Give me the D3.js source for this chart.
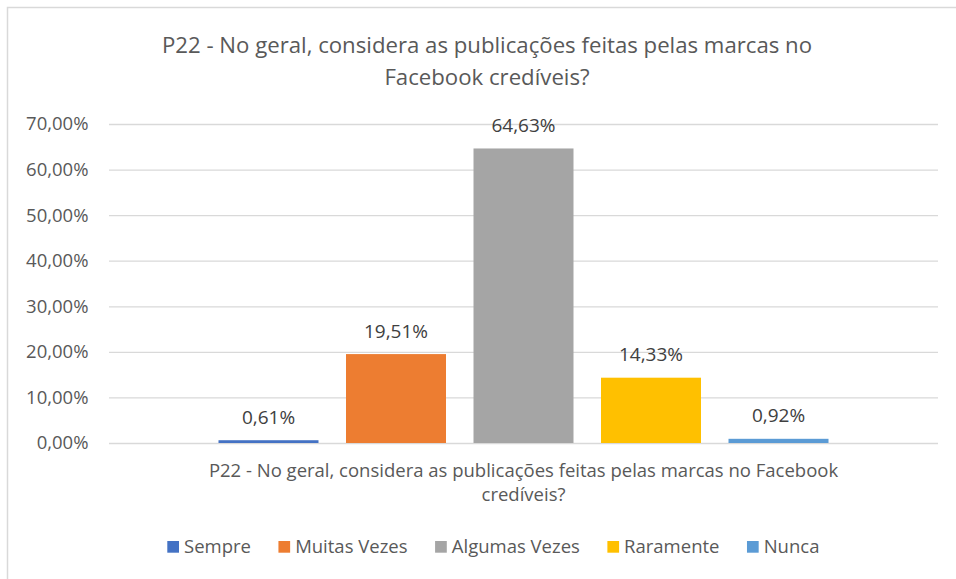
<!DOCTYPE html>
<html>
<head>
<meta charset="utf-8">
<script src="https://cdn.jsdelivr.net/npm/d3@7"></script>
<style>
  html, body { margin: 0; padding: 0; background: #fff; }
  svg { display: block; }
  text { font-family: "Open Sans", "Noto Sans", sans-serif; fill: #595959; }
</style>
</head>
<body>
<svg id="chart" width="956" height="579"></svg>
<script>
const titleLines = ["P22 - No geral, considera as publicações feitas pelas marcas no", "Facebook credíveis?"];
const axisTitleLines = ["P22 - No geral, considera as publicações feitas pelas marcas no Facebook", "credíveis?"];
const series = ["Sempre", "Muitas Vezes", "Algumas Vezes", "Raramente", "Nunca"];
const values = [0.0061, 0.1951, 0.6463, 0.1433, 0.0092];
const valueLabels = ["0,61%", "19,51%", "64,63%", "14,33%", "0,92%"];
const colors = ["#4472C4", "#ED7D31", "#A5A5A5", "#FFC000", "#5B9BD5"];
const yTicks = [0, 0.1, 0.2, 0.3, 0.4, 0.5, 0.6, 0.7];

const FONT = '"Open Sans", "Noto Sans", sans-serif';
const svg = d3.select("#chart");
const plot = { left: 109, right: 938, top: 124, bottom: 443 };

// chart border
svg.append("rect").attr("x", 7.5).attr("y", 7.5).attr("width", 960).attr("height", 600)
  .attr("fill", "#fff").attr("stroke", "#D9D9D9").attr("stroke-width", 1.5);

const y = d3.scaleLinear().domain([0, 0.7]).range([plot.bottom, plot.top]);
const x = d3.scaleBand().domain(series).range([plot.left, plot.right])
  .paddingInner(0.2157).paddingOuter(0.8588);

const fmt = d => d3.format(".2f")(d * 100).replace(".", ",") + "%";

// y axis + gridlines
const yAxis = d3.axisLeft(y).tickValues(yTicks).tickFormat(fmt)
  .tickSize(-(plot.right - plot.left)).tickPadding(20.5);
const gy = svg.append("g").attr("transform", `translate(${plot.left},0)`).call(yAxis);
gy.select(".domain").remove();
gy.selectAll(".tick line").attr("stroke", "#D9D9D9").attr("stroke-width", 1.3);
gy.selectAll(".tick text").attr("font-size", 18.5).attr("fill", "#595959")
  .style("font-family", FONT);

// bars
svg.append("g").selectAll("rect").data(series).join("rect")
  .attr("x", d => x(d))
  .attr("width", x.bandwidth())
  .attr("y", (d, i) => y(values[i]))
  .attr("height", (d, i) => y(0) - y(values[i]))
  .attr("fill", (d, i) => colors[i]);

// value labels
svg.append("g").selectAll("text").data(series).join("text")
  .attr("x", d => x(d) + x.bandwidth() / 2)
  .attr("y", (d, i) => y(values[i]) - 16.5)
  .attr("text-anchor", "middle")
  .attr("font-size", 19)
  .style("fill", "#404040")
  .text((d, i) => valueLabels[i]);

// title
svg.append("text").attr("text-anchor", "middle").attr("font-size", 22.2)
  .selectAll("tspan").data(titleLines).join("tspan")
  .attr("x", 487).attr("y", (d, i) => 52.7 + i * 32.3).text(d => d);

// axis title
svg.append("text").attr("text-anchor", "middle").attr("font-size", 18.5)
  .selectAll("tspan").data(axisTitleLines).join("tspan")
  .attr("x", (plot.left + plot.right) / 2).attr("y", (d, i) => 477.3 + i * 24).text(d => d);

// legend
const lgRoot = svg.append("g").attr("transform", "translate(167.3,0)");
let cursor = 0;
series.forEach((s, i) => {
  const g = lgRoot.append("g").attr("transform", `translate(${cursor},0)`);
  g.append("rect").attr("x", 0).attr("y", 541).attr("width", 11.7).attr("height", 11.7)
    .attr("fill", colors[i]);
  const t = g.append("text").attr("x", 16.7).attr("y", 553).attr("font-size", 18.5).text(s);
  cursor += 16.7 + t.node().getComputedTextLength() + 27.5;
});
</script>
</body>
</html>
